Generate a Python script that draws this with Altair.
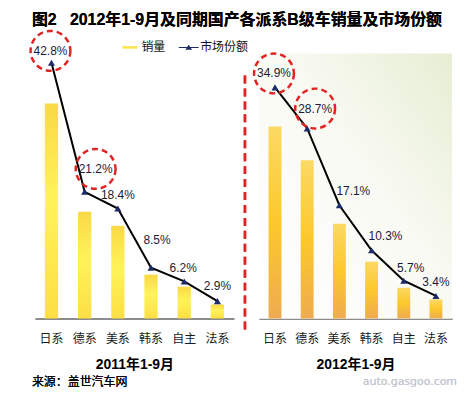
import altair as alt
import pandas as pd

categories = ["日系", "德系", "美系", "韩系", "自主", "法系"]
share_2011 = [42.8, 21.2, 18.4, 8.5, 6.2, 2.9]
share_2012 = [34.9, 28.7, 17.1, 10.3, 5.7, 3.4]
sales_2011 = [56.8, 28.2, 24.5, 11.6, 8.4, 3.7]   # 万辆
sales_2012 = [54.4, 44.8, 26.8, 16.1, 8.7, 5.4]
legend_items = ["销量", "市场份额"]
highlight_idx = [0, 1]
main_title = "图2\u00a0\u00a0\u00a02012年1-9月及同期国产各派系B级车销量及市场份额"
source_text = "来源：盖世汽车网"

# label placement (style only)
dx_2011 = [-1, 11, 0, 6, -1, 0]
dy_2011 = [-12, -23, -14, -28, -13, -15]
dx_2012 = [-1, 8, 14, 14, 7, 0]
dy_2012 = [-14, -20, -14, -14, -13, -14]

FONT = "Liberation Sans, Noto Sans CJK SC"
CJK = "Noto Sans CJK SC"


def make_df(shares, sales):
    return pd.DataFrame({
        "idx": list(range(len(categories))),
        "cat": categories,
        "share": shares,
        "sales": sales,
        "label": [f"{s:.1f}%" for s in shares],
    })


def panel(df, width, height, share_max, sales_max, title, grad, dxs, dys, back, extras):
    xenc = alt.X(
        "cat:N",
        scale=alt.Scale(domain=categories, paddingInner=0.6, paddingOuter=0.3),
        axis=alt.Axis(labelAngle=0, ticks=False, tickSize=0, labelPadding=15,
                      domainColor="#8c8c8c", domainWidth=2, labelFont=CJK,
                      labelFontSize=12, labelColor="#1a1a1a", title=title,
                      titleFont=FONT, titleFontSize=14, titleFontWeight="bold",
                      titleColor="#000", titlePadding=13),
    )
    yshare = alt.Y("share:Q", scale=alt.Scale(domain=[0, share_max], nice=False, zero=True), axis=None)
    base = alt.Chart(df)
    bars = base.mark_bar(color=grad).encode(
        x=xenc,
        y=alt.Y("sales:Q", scale=alt.Scale(domain=[0, sales_max], nice=False), axis=None),
    )
    line = base.mark_line(color="#000000", strokeWidth=2).encode(x=xenc, y=yshare)
    pts = base.mark_point(shape="triangle-up", filled=True, color="#1c2b6a", size=50, opacity=1).encode(x=xenc, y=yshare)
    layers = list(back) + [bars, line, pts]
    for i in range(len(categories)):
        layers.append(
            base.transform_filter(alt.datum.idx == i)
            .mark_text(dx=dxs[i], dy=dys[i], font=FONT, fontSize=12, color="#1a1a3a", baseline="middle", align="center")
            .encode(x=xenc, y=yshare, text="label:N")
        )
    for i in highlight_idx:
        layers.append(
            base.transform_filter(alt.datum.idx == i)
            .mark_point(shape="circle", size=1600, filled=False, stroke="#e02424", strokeWidth=2.5,
                        strokeDash=[6, 4], xOffset=dxs[i], yOffset=dys[i], opacity=1)
            .encode(x=xenc, y=yshare)
        )
    layers.extend(extras)
    return alt.layer(*layers).resolve_scale(y="independent").properties(width=width, height=height)


H = 266
grad_2011 = alt.LinearGradient(
    gradient="linear", x1=0, x2=0, y1=0, y2=1,
    stops=[alt.GradientStop(color="#f9d946", offset=0),
           alt.GradientStop(color="#fff358", offset=0.45),
           alt.GradientStop(color="#fcdf44", offset=1)],
)
grad_2012 = alt.LinearGradient(
    gradient="linear", x1=0, x2=0, y1=0, y2=1,
    stops=[alt.GradientStop(color="#fbd964", offset=0),
           alt.GradientStop(color="#fcc82c", offset=0.5),
           alt.GradientStop(color="#eeac50", offset=1)],
)
bg_grad = alt.LinearGradient(
    gradient="linear", x1=0, y1=1, x2=1, y2=0,
    stops=[alt.GradientStop(color="#ffffff", offset=0),
           alt.GradientStop(color="#f9faf3", offset=0.55),
           alt.GradientStop(color="#e6eed3", offset=1)],
)

swatch_path = "M-1,-0.17H1V0.17H-1Z"
line_path = "M-1.33,-0.07H1.33V0.07H-1.33Z M-0.45,0.3L0,-0.35L0.45,0.3Z"
legend_df = pd.DataFrame({"item": legend_items})
leg = alt.Legend(orient="none", legendX=88, legendY=-14, direction="horizontal", title=None,
                 symbolSize=225, symbolOpacity=1, symbolStrokeWidth=0, labelFont=CJK,
                 labelFontSize=12, labelColor="#111", columnPadding=12, labelOffset=4, padding=0)
legend_layer = alt.Chart(legend_df).mark_point(opacity=0, filled=True).encode(
    shape=alt.Shape("item:N", scale=alt.Scale(domain=legend_items, range=[swatch_path, line_path]), legend=leg),
    color=alt.Color("item:N", scale=alt.Scale(domain=legend_items, range=["#fbe44a", "#1c2b6a"]), legend=leg),
)
divider = alt.Chart(legend_df).mark_rule(color="#e02424", strokeWidth=2.5, strokeDash=[8, 5]).encode(
    x=alt.value(211), y=alt.value(22), y2=alt.value(282)
)
title_mark = alt.Chart(legend_df).mark_text(align="left", baseline="middle", font=FONT, fontSize=16,
                                            fontWeight="bold", color="#000").encode(
    x=alt.value(-3), y=alt.value(-34), text=alt.value(main_title)
)
source = alt.Chart(legend_df).mark_text(align="left", baseline="middle", font=CJK, fontSize=12, color="#000").encode(
    x=alt.value(-3), y=alt.value(330), text=alt.value(source_text)
)
watermark = alt.Chart(legend_df).mark_text(align="right", baseline="middle", font="DejaVu Sans", fontSize=11,
                                           color="#c4c8d2").encode(
    x=alt.value(199), y=alt.value(330), text=alt.value("auto.gasgoo.com")
)
background = alt.Chart(legend_df).mark_rect(color=bg_grad).encode(
    x=alt.value(0), x2=alt.value(194), y=alt.value(0), y2=alt.value(H)
)

left = panel(make_df(share_2011, sales_2011), 200, H, 44.33, 70, "2011年1-9月", grad_2011,
             dx_2011, dy_2011, [], [legend_layer, divider, title_mark, source])
right = panel(make_df(share_2012, sales_2012), 194, H, 40.0, 75, "2012年1-9月", grad_2012,
              dx_2012, dy_2012, [background], [watermark])

chart = alt.hconcat(left, right, spacing=25, bounds="flush").properties(
    padding={"left": 17, "top": 3, "right": 5, "bottom": 0},
).configure_view(strokeWidth=0)

chart.save("out.html", embed_options={"renderer": "svg", "actions": False})
